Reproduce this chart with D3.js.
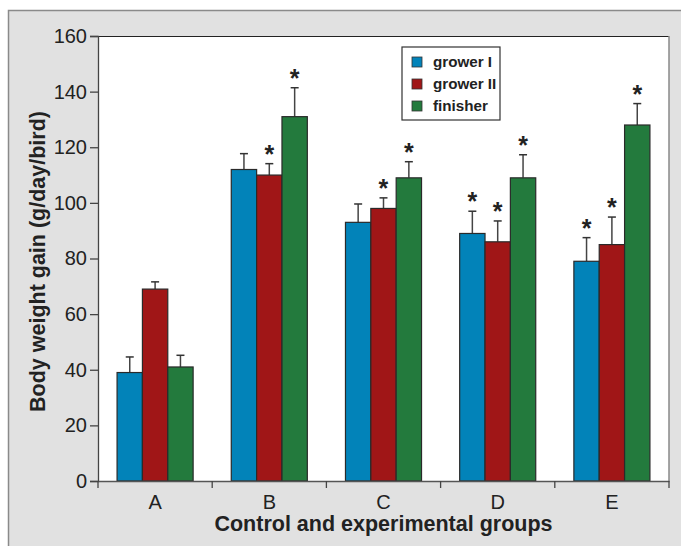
<!DOCTYPE html>
<html lang="en">
<head>
<meta charset="UTF-8">
<script src="https://d3js.org/d3.v7.min.js"></script>
<style>
  body { margin: 0; background: #fff; }
  text { font-family: "Liberation Sans", Arial, sans-serif; fill: #222; }
  .tick text { font-size: 20px; }
</style>
</head>
<body>
<div id="chart"></div>
<script>
// chart data
const groups = ["A", "B", "C", "D", "E"];
const seriesNames = ["grower I", "grower II", "finisher"];
const growerI = [39, 112, 93, 89, 79];
const growerII = [69, 110, 98, 86, 85];
const finisher = [41, 131, 109, 109, 128];
const growerIErr = [44.6, 117.7, 99.6, 97, 87.5];
const growerIIErr = [71.6, 114.1, 101.8, 93.5, 94.9];
const finisherErr = [45.2, 141.4, 114.8, 117.3, 135.7];
const growerIStar = [false, false, false, true, true];
const growerIIStar = [false, true, true, true, true];
const finisherStar = [false, true, true, true, true];
const yTicks = [0, 20, 40, 60, 80, 100, 120, 140, 160];
const colors = ["#0283b9", "#a01617", "#237a3d"];

const W = 681, H = 546;
const margin = { top: 36, right: 12, bottom: 65, left: 98 };
const width = W - margin.left - margin.right;
const height = H - margin.top - margin.bottom;

const svg = d3.select("#chart").append("svg")
  .attr("width", W).attr("height", H);

// grey panel
svg.append("rect")
  .attr("x", 8.5).attr("y", 10.5)
  .attr("width", W).attr("height", H)
  .attr("fill", "#e1e1e1")
  .attr("stroke", "#8a8a8a").attr("stroke-width", 1.5);

const g = svg.append("g")
  .attr("transform", `translate(${margin.left},${margin.top})`);

g.append("rect")
  .attr("width", width).attr("height", height)
  .attr("fill", "#fff");
// plot frame: dark top, grey right
g.append("line").attr("x1", 0).attr("x2", width).attr("y1", 0.5).attr("y2", 0.5)
  .attr("stroke", "#222");
g.append("line").attr("x1", width).attr("x2", width).attr("y1", 0).attr("y2", height)
  .attr("stroke", "#888").attr("stroke-width", 1.5);

const x = d3.scaleBand().domain(groups).range([0, width]).paddingInner(0).paddingOuter(0);
const x1 = d3.scaleBand().domain(seriesNames).range([x.bandwidth() * 0.167, x.bandwidth() * 0.833]);
const y = d3.scaleLinear().domain([0, 160]).range([height, 0]);

const rows = groups.map((grp, i) => ({
  grp,
  vals: [
    { s: seriesNames[0], v: growerI[i], e: growerIErr[i], star: growerIStar[i], c: colors[0] },
    { s: seriesNames[1], v: growerII[i], e: growerIIErr[i], star: growerIIStar[i], c: colors[1] },
    { s: seriesNames[2], v: finisher[i], e: finisherErr[i], star: finisherStar[i], c: colors[2] }
  ]
}));

const grp = g.selectAll(".grp").data(rows).enter().append("g")
  .attr("transform", d => `translate(${x(d.grp)},0)`);

// error bars first (behind bars)
const eb = grp.selectAll(".err").data(d => d.vals).enter().append("g");
eb.append("line")
  .attr("x1", d => x1(d.s) + x1.bandwidth() / 2)
  .attr("x2", d => x1(d.s) + x1.bandwidth() / 2)
  .attr("y1", d => y(d.v)).attr("y2", d => y(d.e))
  .attr("stroke", "#444").attr("stroke-width", 1.5);
eb.append("line")
  .attr("x1", d => x1(d.s) + x1.bandwidth() / 2 - 4)
  .attr("x2", d => x1(d.s) + x1.bandwidth() / 2 + 4)
  .attr("y1", d => y(d.e)).attr("y2", d => y(d.e))
  .attr("stroke", "#333").attr("stroke-width", 1.5);

grp.selectAll(".bar").data(d => d.vals).enter().append("rect")
  .attr("x", d => x1(d.s))
  .attr("y", d => y(d.v))
  .attr("width", x1.bandwidth())
  .attr("height", d => height - y(d.v))
  .attr("fill", d => d.c)
  .attr("stroke", "#2a2a2a").attr("stroke-width", 1.2);

grp.selectAll(".star").data(d => d.vals.filter(v => v.star)).enter().append("text")
  .attr("x", d => x1(d.s) + x1.bandwidth() / 2)
  .attr("y", d => y(d.e) - 1)
  .attr("text-anchor", "middle")
  .style("font-size", "25px").style("font-weight", "bold")
  .text("*");

// axes
const yAxis = g.append("g").call(d3.axisLeft(y).tickValues(yTicks).tickSize(8).tickPadding(3));
yAxis.attr("font-size", 20).attr("font-family", null);
yAxis.selectAll("text").attr("fill", "#222");
yAxis.selectAll("line, path").attr("stroke", "#444").attr("stroke-width", 1.3);

const xAxis = g.append("g").attr("transform", `translate(0,${height})`)
  .call(d3.axisBottom(x).tickSize(0).tickPadding(14));
xAxis.attr("font-size", 20).attr("font-family", null);
xAxis.selectAll("text").attr("fill", "#222");
xAxis.select("path").attr("stroke", "#555").attr("stroke-width", 1.5);
// tick marks at band edges
xAxis.selectAll(".edge").data(groups.concat(["end"])).enter().append("line")
  .attr("x1", (d, i) => i * x.bandwidth()).attr("x2", (d, i) => i * x.bandwidth())
  .attr("y1", 0).attr("y2", 7)
  .attr("stroke", "#444").attr("stroke-width", 1.3);

svg.append("text")
  .attr("transform", `translate(45,${margin.top + height / 2 + 3}) rotate(-90)`)
  .attr("text-anchor", "middle")
  .style("font-size", "21.5px").style("font-weight", "bold")
  .text("Body weight gain (g/day/bird)");

svg.append("text")
  .attr("x", margin.left + width / 2).attr("y", 531)
  .attr("text-anchor", "middle")
  .style("font-size", "21.5px").style("font-weight", "bold")
  .text("Control and experimental groups");

// legend
const lg = svg.append("g").attr("transform", "translate(402,47)");
lg.append("rect").attr("width", 98).attr("height", 73)
  .attr("fill", "#fff").attr("stroke", "#333").attr("stroke-width", 1.2);
seriesNames.forEach((s, i) => {
  lg.append("rect").attr("x", 10).attr("y", 10 + i * 22)
    .attr("width", 10).attr("height", 10)
    .attr("fill", colors[i]).attr("stroke", "#333").attr("stroke-width", 0.8);
  lg.append("text").attr("x", 31).attr("y", 20 + i * 22)
    .style("font-size", "15.2px").style("font-weight", "bold")
    .text(s);
});
</script>
</body>
</html>
